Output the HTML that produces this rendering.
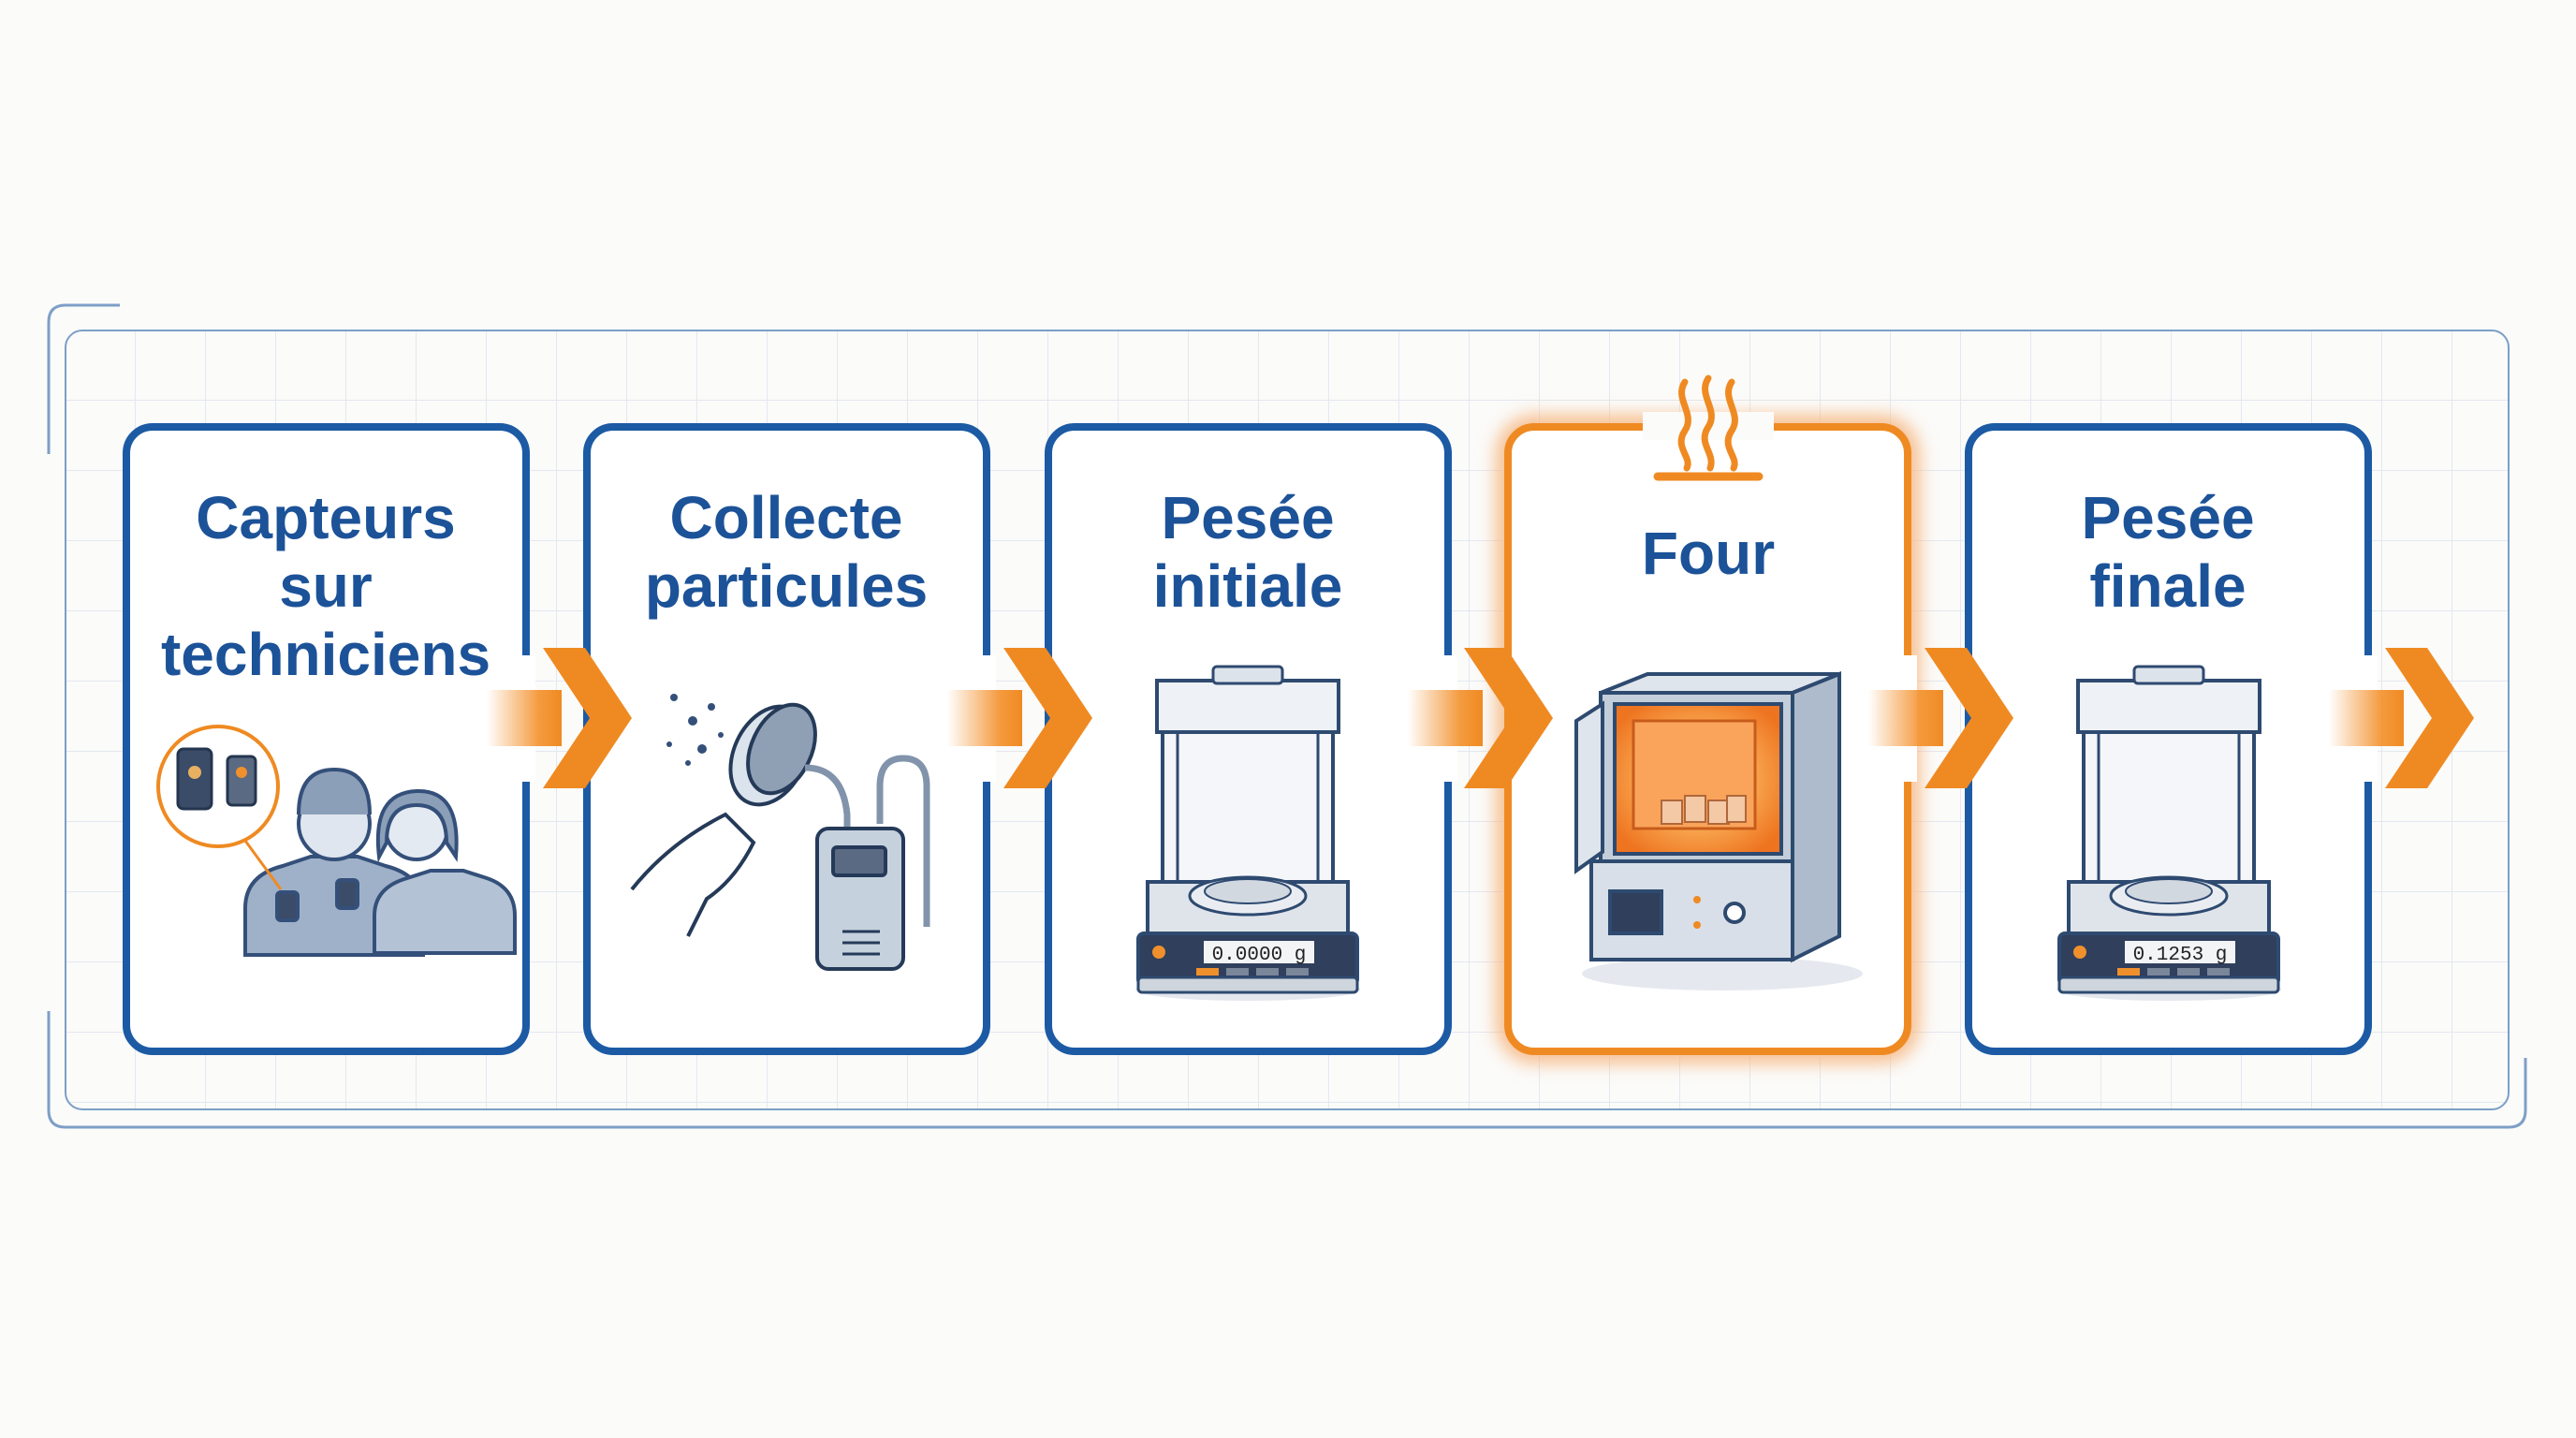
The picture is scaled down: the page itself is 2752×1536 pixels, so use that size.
<!DOCTYPE html>
<html><head><meta charset="utf-8"><style>
html,body{margin:0;padding:0;background:#fbfbfa;}
svg{display:block}
text{font-family:"Liberation Sans",sans-serif;font-weight:bold;fill:#1c5298;text-anchor:middle;font-size:64px}
</style></head><body>
<svg width="2752" height="1536" viewBox="0 0 2752 1536" xmlns="http://www.w3.org/2000/svg">
<defs>
<pattern id="grid" width="75" height="75" patternUnits="userSpaceOnUse" x="70" y="353">
<path d="M75 0V75M0 75H75" fill="none" stroke="#e3e8f0" stroke-width="2"/></pattern>
<linearGradient id="tail" x1="0" x2="1"><stop offset="0" stop-color="#f3902a" stop-opacity="0"/><stop offset="0.7" stop-color="#f3902a" stop-opacity="0.9"/><stop offset="1" stop-color="#ef8a22"/></linearGradient>
<radialGradient id="fire" cx="0.5" cy="0.5" r="0.6"><stop offset="0" stop-color="#ffd08a"/><stop offset="0.6" stop-color="#f7a04a"/><stop offset="1" stop-color="#ee7420"/></radialGradient>
<filter id="glow" x="-20%" y="-20%" width="140%" height="140%"><feGaussianBlur stdDeviation="10"/></filter>
<g id="arrow">
<rect x="-110" y="-30" width="80" height="60" fill="url(#tail)"/>
<polygon points="-50,-75 -5,-75 45,0 -5,75 -50,75 0,0" fill="#ef8a22"/>
</g>
<g id="balance">
<ellipse cx="117" cy="345" rx="120" ry="12" fill="#e4e8ee"/>
<rect x="20" y="15" width="194" height="55" fill="#eef1f5" stroke="#2e4a70" stroke-width="4"/>
<rect x="80" y="0" width="74" height="18" rx="4" fill="#dde3ea" stroke="#2e4a70" stroke-width="3"/>
<rect x="26" y="70" width="182" height="160" fill="#f4f6f9" stroke="#2e4a70" stroke-width="4"/>
<line x1="42" y1="70" x2="42" y2="230" stroke="#2e4a70" stroke-width="3"/>
<line x1="192" y1="70" x2="192" y2="230" stroke="#2e4a70" stroke-width="3"/>
<rect x="10" y="230" width="214" height="60" fill="#dfe4ea" stroke="#2e4a70" stroke-width="4"/>
<ellipse cx="117" cy="245" rx="62" ry="20" fill="#e9edf2" stroke="#2e4a70" stroke-width="3"/>
<ellipse cx="117" cy="240" rx="46" ry="13" fill="#d2d8e0" stroke="#2e4a70" stroke-width="2"/>
<rect x="0" y="285" width="234" height="55" rx="6" fill="#2f3f5c" stroke="#2e4a70" stroke-width="4"/>
<rect x="0" y="332" width="234" height="16" rx="4" fill="#cfd5dd" stroke="#2e4a70" stroke-width="3"/>
<circle cx="22" cy="305" r="7" fill="#f0902c"/>
<rect x="70" y="293" width="118" height="24" fill="#f2f4f6"/>
<rect x="62" y="322" width="24" height="8" fill="#f0902c"/>
<rect x="94" y="322" width="24" height="8" fill="#7a8699"/><rect x="126" y="322" width="24" height="8" fill="#7a8699"/><rect x="158" y="322" width="24" height="8" fill="#7a8699"/>
</g>
</defs>
<rect x="70" y="353" width="2610" height="832" fill="url(#grid)" stroke="#7d9fc6" stroke-width="2" rx="18"/>
<path d="M128 326H70Q52 326 52 344V485M52 1080V1186Q52 1204 70 1204H2680Q2698 1204 2698 1186V1130" fill="none" stroke="#7d9fc6" stroke-width="3"/>
<g fill="#fff" stroke-width="8">
<rect x="135" y="456" width="427" height="667" rx="28" stroke="#1c5aa4"/>
<rect x="627" y="456" width="427" height="667" rx="28" stroke="#1c5aa4"/>
<rect x="1120" y="456" width="427" height="667" rx="28" stroke="#1c5aa4"/>
<rect x="1611" y="456" width="427" height="667" rx="28" stroke="#f6b278" stroke-width="22" filter="url(#glow)"/>
<rect x="1611" y="456" width="427" height="667" rx="28" stroke="#ef8a22"/>
<rect x="2103" y="456" width="427" height="667" rx="28" stroke="#1c5aa4"/>
</g>
<rect x="1755" y="440" width="140" height="30" fill="#fbfbfa"/>
<g fill="none" stroke="#ef8a22" stroke-width="7" stroke-linecap="round">
<path d="M1800 408c-12 18 12 34 0 52s8 28 2 40"/>
<path d="M1825 404c-12 18 12 34 0 52s8 28 2 44"/>
<path d="M1850 408c-12 18 12 34 0 52s8 28 2 40"/>
<line x1="1771" y1="509" x2="1879" y2="509" stroke-width="9"/>
</g>
<g fill="#fff">
<rect x="552" y="700" width="20" height="135"/><rect x="1044" y="700" width="20" height="135"/>
<rect x="1537" y="700" width="20" height="135"/><rect x="2028" y="700" width="20" height="135"/>
<rect x="2520" y="700" width="20" height="135"/>
</g>
<use href="#arrow" x="630" y="767"/>
<use href="#arrow" x="1122" y="767"/>
<use href="#arrow" x="1614" y="767"/>
<use href="#arrow" x="2106" y="767"/>
<use href="#arrow" x="2598" y="767"/>
<text x="348" y="575">Capteurs</text><text x="348" y="648">sur</text><text x="348" y="721">techniciens</text>
<text x="840" y="575">Collecte</text><text x="840" y="648">particules</text>
<text x="1333" y="575">Pesée</text><text x="1333" y="648">initiale</text>
<text x="1825" y="613">Four</text>
<text x="2316" y="575">Pesée</text><text x="2316" y="648">finale</text>
<g stroke="#34507a" stroke-width="4" fill="#9fb1c9">
<path d="M262 1020v-50q0-35 40-45l30-10h50l30 10q40 10 40 45v50z"/>
<circle cx="357" cy="880" r="38" fill="#dfe6ef"/>
<path d="M319 870q0-48 38-48t38 48" fill="#8c9fb8"/>
<path d="M400 1018v-40q0-30 35-40l25-8h35l25 8q30 10 30 40v40z" fill="#b3c2d5"/>
<circle cx="445" cy="885" r="33" fill="#e4eaf2"/>
<path d="M405 915q-8-68 40-70t42 70l-10-15q0-40-32-40t-32 40z" fill="#8c9fb8"/>
<rect x="296" y="953" width="22" height="30" rx="4" fill="#3b4c68"/><rect x="360" y="940" width="22" height="30" rx="4" fill="#3b4c68"/>
</g>
<circle cx="233" cy="840" r="64" fill="#fff" stroke="#ef8a22" stroke-width="4"/>
<line x1="262" y1="898" x2="300" y2="950" stroke="#ef8a22" stroke-width="3"/>
<rect x="190" y="800" width="36" height="64" rx="6" fill="#3b4c68" stroke="#24354f" stroke-width="3"/>
<rect x="243" y="808" width="30" height="52" rx="5" fill="#5a6a82" stroke="#24354f" stroke-width="3"/>
<circle cx="208" cy="825" r="7" fill="#e8b060"/><circle cx="258" cy="825" r="6" fill="#f0902c"/>
<g stroke="#253a58" stroke-width="4" fill="#c6d1de">
<path d="M675 950q40-50 100-80l30 30q-20 40-50 60l-20 40" fill="none"/>
<ellipse cx="822" cy="807" rx="38" ry="55" transform="rotate(25 822 807)" fill="#dbe3ec"/>
<ellipse cx="835" cy="800" rx="32" ry="50" transform="rotate(25 835 800)" fill="#8fa0b5"/>
<path d="M860 820q40 0 45 50v20M940 880v-40q0-30 25-30t25 30v150" fill="none" stroke="#8294ab" stroke-width="7"/>
<rect x="873" y="885" width="92" height="150" rx="12"/>
<rect x="890" y="905" width="56" height="30" rx="4" fill="#5a6a82"/>
<path d="M900 995h40M900 1007h40M900 1019h40" stroke-width="3"/>
</g>
<g fill="#34507a"><circle cx="720" cy="745" r="4"/><circle cx="740" cy="770" r="5"/><circle cx="760" cy="755" r="4"/><circle cx="715" cy="795" r="3"/><circle cx="750" cy="800" r="5"/><circle cx="770" cy="785" r="3"/><circle cx="735" cy="815" r="3"/></g>
<use href="#balance" x="1216" y="712"/>
<text x="1345" y="1025" style="font-size:21px;fill:#222;font-family:'Liberation Mono',monospace;font-weight:normal">0.0000 g</text>
<use href="#balance" x="2200" y="712"/>
<text x="2329" y="1025" style="font-size:21px;fill:#222;font-family:'Liberation Mono',monospace;font-weight:normal">0.1253 g</text>
<ellipse cx="1840" cy="1040" rx="150" ry="18" fill="#e5e9ef"/>
<g stroke="#2e4a70" stroke-width="4">
<polygon points="1710,740 1760,720 1965,720 1915,740" fill="#dfe5ec"/>
<polygon points="1915,740 1965,720 1965,1000 1915,1025" fill="#aebbcc"/>
<rect x="1710" y="740" width="205" height="180" fill="#c3ceda"/>
<rect x="1725" y="752" width="178" height="160" fill="url(#fire)"/>
<rect x="1745" y="770" width="130" height="115" fill="#f9a45a" stroke="#c85c1a" stroke-width="3"/>
<polygon points="1684,770 1712,752 1712,910 1684,930" fill="#dfe5ec"/>
<rect x="1700" y="920" width="215" height="105" fill="#d8dfe8"/>
<rect x="1720" y="952" width="55" height="45" fill="#2f3f5c"/>
<circle cx="1853" cy="975" r="10" fill="#fff"/>
</g>
<g fill="#f3c9a6" stroke="#b0673a" stroke-width="2"><rect x="1775" y="855" width="22" height="25"/><rect x="1800" y="850" width="22" height="28"/><rect x="1825" y="855" width="22" height="25"/><rect x="1845" y="850" width="20" height="28"/></g>
<circle cx="1813" cy="961" r="4" fill="#ef8a22"/><circle cx="1813" cy="988" r="4" fill="#ef8a22"/>
</svg>
</body></html>
